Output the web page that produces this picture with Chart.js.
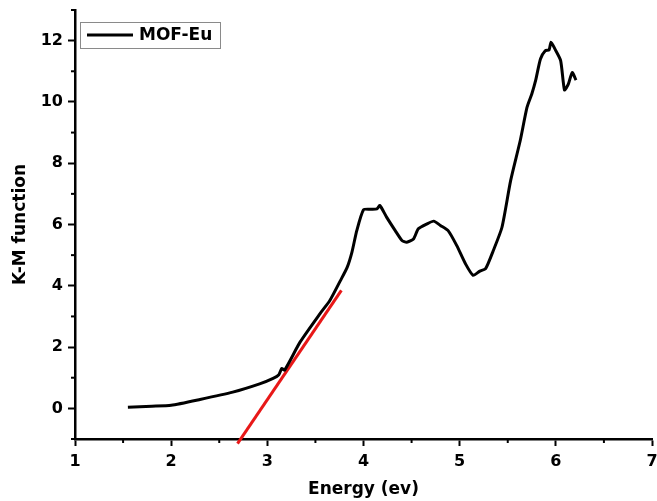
<!DOCTYPE html>
<html>
<head>
<meta charset="utf-8">
<script src="https://cdn.jsdelivr.net/npm/chart.js@4/dist/chart.umd.min.js"></script>
<style>
  html, body { margin: 0; padding: 0; background: #fff; }
  #wrap { width: 657px; height: 501px; }
</style>
</head>
<body>
<div id="wrap"><canvas id="kmChart"></canvas></div>
<script>
// K-M function vs photon energy
const energy = [1.55, 1.8, 2.0, 2.3, 2.64, 2.92, 3.06, 3.12, 3.15, 3.18, 3.34, 3.55, 3.65, 3.76, 3.83, 3.88, 3.93, 4.0, 4.07, 4.14, 4.17, 4.24, 4.33, 4.4, 4.45, 4.52, 4.57, 4.66, 4.73, 4.8, 4.88, 4.97, 5.06, 5.14, 5.21, 5.27, 5.35, 5.44, 5.53, 5.63, 5.70, 5.75, 5.79, 5.84, 5.89, 5.93, 5.95, 5.99, 6.05, 6.09, 6.13, 6.17, 6.21];
const kmValues = [0.04, 0.07, 0.1, 0.29, 0.53, 0.8, 0.98, 1.1, 1.3, 1.25, 2.16, 3.1, 3.52, 4.17, 4.6, 5.1, 5.8, 6.48, 6.5, 6.51, 6.62, 6.24, 5.8, 5.48, 5.42, 5.53, 5.86, 6.02, 6.11, 5.97, 5.8, 5.31, 4.72, 4.34, 4.48, 4.56, 5.15, 5.91, 7.43, 8.74, 9.82, 10.26, 10.7, 11.4, 11.67, 11.7, 11.95, 11.73, 11.35, 10.39, 10.58, 10.96, 10.71];

// band-gap tangent (red)
const tangentX = [2.69, 3.77];
const tangentY = [-1.15, 3.85];

const xTicks = [1, 2, 3, 4, 5, 6, 7];
const yTicks = [0, 2, 4, 6, 8, 10, 12];
const seriesName = "MOF-Eu";

const FONT = "'DejaVu Sans', sans-serif";

const toPoints = (xs, ys) => xs.map((x, i) => ({ x: x, y: ys[i] }));

// drop the label overhang padding so the plot box sits where the figure has it
const noPad = s => { s.paddingTop = s.paddingBottom = s.paddingLeft = s.paddingRight = 0; };

// short minor ticks + framed legend inside the plot
const extras = {
  id: "extras",
  afterDraw(chart) {
    const c = chart.ctx;
    const xs = chart.scales.x, ys = chart.scales.y;
    c.save();
    c.strokeStyle = "#000";
    c.lineWidth = 2;
    xs.ticks.forEach(t => {
      if (xTicks.includes(t.value)) return;
      const px = xs.getPixelForValue(t.value);
      c.beginPath(); c.moveTo(px, xs.top); c.lineTo(px, xs.top + 4); c.stroke();
    });
    ys.ticks.forEach(t => {
      if (yTicks.includes(t.value)) return;
      const py = ys.getPixelForValue(t.value);
      c.beginPath(); c.moveTo(ys.right, py); c.lineTo(ys.right - 4, py); c.stroke();
    });

    const bx = 80, by = 22;
    c.strokeStyle = "#8a8a8a";
    c.lineWidth = 1;
    c.strokeRect(bx + 0.5, by + 0.5, 140, 26);
    c.strokeStyle = "#000";
    c.lineWidth = 3;
    c.beginPath(); c.moveTo(bx + 7, by + 13); c.lineTo(bx + 53, by + 13); c.stroke();
    c.fillStyle = "#000";
    c.font = "bold 17px " + FONT;
    c.textBaseline = "middle";
    c.fillText(chart.data.datasets[0].label, bx + 59, by + 14);
    c.restore();
  }
};

new Chart(document.getElementById("kmChart"), {
  type: "scatter",
  data: {
    datasets: [
      {
        label: seriesName,
        data: toPoints(energy, kmValues),
        showLine: true,
        borderColor: "#000",
        borderWidth: 3,
        pointRadius: 0,
        tension: 0.2
      },
      {
        label: "tangent",
        data: toPoints(tangentX, tangentY),
        showLine: true,
        borderColor: "#e81818",
        borderWidth: 3,
        pointRadius: 0,
        clip: false
      }
    ]
  },
  options: {
    responsive: true,
    maintainAspectRatio: false,
    animation: false,
    layout: { padding: { top: 10, right: 5, left: 0, bottom: 0 } },
    plugins: {
      legend: { display: false },
      tooltip: { enabled: false }
    },
    scales: {
      x: {
        type: "linear",
        min: 1, max: 7,
        afterFit: s => { s.height = 62; noPad(s); },
        border: { display: true, color: "#000", width: 2.5 },
        grid: {
          drawOnChartArea: false,
          drawTicks: true,
          tickLength: 7,
          tickWidth: 2,
          tickColor: ctx => xTicks.includes(ctx.tick.value) ? "#000" : "rgba(0,0,0,0)"
        },
        ticks: {
          stepSize: 0.5,
          autoSkip: false,
          maxRotation: 0,
          padding: 6,
          color: "#000",
          font: { family: FONT, size: 16, weight: "bold" },
          callback: v => xTicks.includes(v) ? v : ""
        },
        title: {
          display: true,
          text: "Energy (ev)",
          color: "#000",
          font: { family: FONT, size: 17, weight: "bold" },
          padding: { top: 2, bottom: 1 }
        }
      },
      y: {
        min: -1, max: 13,
        afterFit: s => { s.width = 75; noPad(s); },
        border: { display: true, color: "#000", width: 2.5 },
        grid: {
          drawOnChartArea: false,
          drawTicks: true,
          tickLength: 7,
          tickWidth: 2,
          tickColor: ctx => yTicks.includes(ctx.tick.value) ? "#000" : "rgba(0,0,0,0)"
        },
        ticks: {
          stepSize: 1,
          autoSkip: false,
          padding: 5,
          color: "#000",
          font: { family: FONT, size: 16, weight: "bold" },
          callback: v => yTicks.includes(v) ? v : ""
        },
        title: {
          display: true,
          text: "K-M function",
          color: "#000",
          font: { family: FONT, size: 17, weight: "bold" },
          padding: { top: 10, bottom: 0 }
        }
      }
    }
  },
  plugins: [extras]
});
</script>
</body>
</html>
